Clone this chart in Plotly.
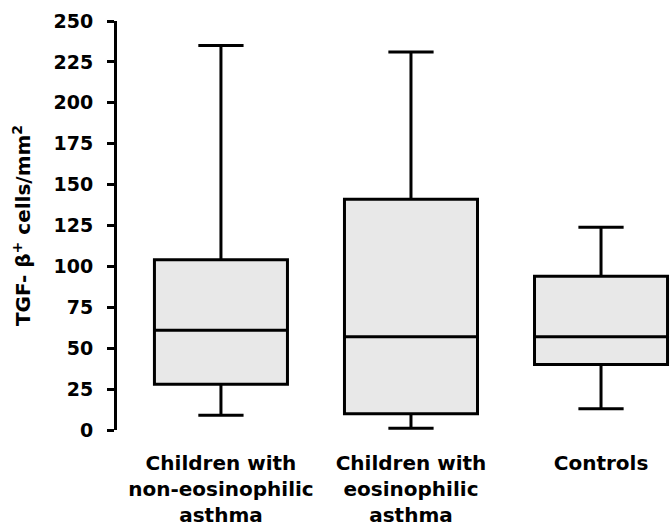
import plotly.graph_objects as go

categories = ["Children with non-eosinophilic asthma",
              "Children with eosinophilic asthma",
              "Controls"]
tick_labels = ["Children with<br>non-eosinophilic<br>asthma",
               "Children with<br>eosinophilic<br>asthma",
               "Controls"]
lower_fence = [9, 1, 13]
q1 = [28, 10, 40]
median = [61, 57, 57]
q3 = [104, 141, 94]
upper_fence = [235, 231, 124]
y_ticks = [0, 25, 50, 75, 100, 125, 150, 175, 200, 225, 250]

FONT = "DejaVu Sans, Verdana, Arial, sans-serif"

fig = go.Figure()
fig.add_trace(go.Box(
    x=categories,
    q1=q1, median=median, q3=q3,
    lowerfence=lower_fence, upperfence=upper_fence,
    fillcolor="#e8e8e8",
    line=dict(color="black", width=3),
    whiskerwidth=0.34,
    width=0.7,
    boxpoints=False,
    hoverinfo="skip",
    showlegend=False,
))

fig.update_layout(
    width=670, height=529,
    margin=dict(l=117, r=0, t=21, b=99),
    paper_bgcolor="white", plot_bgcolor="white",
    font=dict(family=FONT, color="black"),
)
fig.update_xaxes(
    type="category",
    categoryorder="array", categoryarray=categories,
    tickvals=categories, ticktext=tick_labels,
    range=[-0.547, 2.363],
    showline=False, showgrid=False, zeroline=False,
    ticks="",
    tickfont=dict(family=FONT, size=20, weight="bold", color="black"),
    ticklabelstandoff=19,
)
fig.update_yaxes(
    range=[0, 250],
    tickvals=y_ticks,
    showline=True, linecolor="black", linewidth=3,
    showgrid=False, zeroline=False,
    ticks="outside", ticklen=7, tickwidth=3, tickcolor="black",
    tickfont=dict(family=FONT, size=19, weight="bold", color="black"),
    ticklabelstandoff=10,
    title=dict(text="TGF- β<sup>+</sup> cells/mm<sup>2</sup>",
               font=dict(family=FONT, size=20, weight="bold", color="black"),
               standoff=18),
)

fig.write_html("out.html")
